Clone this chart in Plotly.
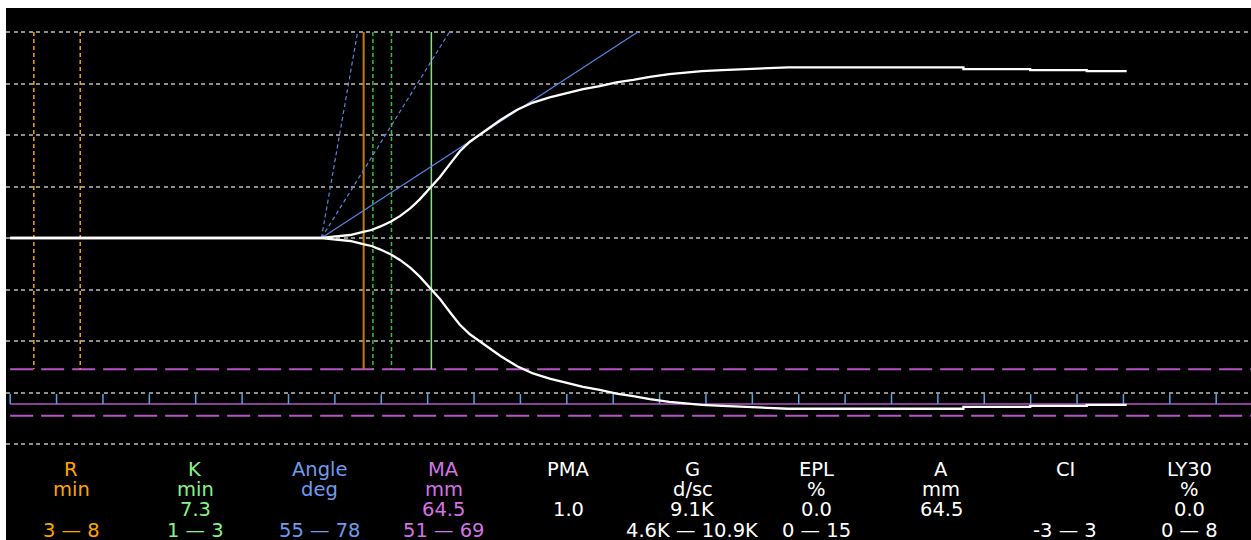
import plotly.graph_objects as go

# ---------------- data ----------------
# amplitude trace: time in minutes, half-amplitude in mm (drawn +/-)
T_MIN = [0.45, 34.0, 35.3, 37.1, 38.5, 39.4, 40.3, 41.5, 42.5, 43.6, 44.6, 45.9,
         46.8, 47.9, 48.9, 50.0, 51.3, 53.3, 55.1, 56.8, 58.6, 60.4, 62.2, 64.0,
         65.8, 67.6, 69.4, 71.5, 73.2, 75.0, 77.2, 80.1, 84.3, 103.2, 103.2,
         110.4, 110.4, 116.5, 116.5, 120.8]
AMP_MM = [0, 0, 0.25, 0.58, 1.2, 1.55, 2.2, 3.2, 4.3, 5.8, 7.5, 10.0,
          11.9, 14.5, 16.8, 18.7, 20.3, 22.9, 24.9, 26.3, 27.3, 28.1, 28.9, 29.5,
          30.2, 30.7, 31.3, 31.8, 32.1, 32.4, 32.6, 32.8, 33.15, 33.15, 32.8,
          32.8, 32.6, 32.6, 32.4, 32.4]

R_RANGE = [3, 8]          # min
R_TIME = 38.55            # min (R marker)
K_RANGE = [1, 3]          # min after R
K_VALUE = 7.3             # min
SPLIT_T = 34.0            # min, where the trace opens
ANGLE_END_T = 68.1        # angle tangent reaches top line here
ANGLE_LO_END_T = 47.8     # 55 deg limit
ANGLE_HI_END_T = 37.9     # 78 deg limit
MA = 64.5
MA_RANGE = [51, 69]
TICK_T = [0.45 + 5 * k for k in range(27)]
GRID_MM = [-40, -30, -20, -10, 0, 10, 20, 30, 40]
TOP_MM = 40

NAMES = ["R", "K", "Angle", "MA", "PMA", "G", "EPL", "A", "CI", "LY30"]
UNITS = ["min", "min", "deg", "mm", "", "d/sc", "%", "mm", "", "%"]
VALUES = ["", "7.3", "", "64.5", "1.0", "9.1K", "0.0", "64.5", "", "0.0"]
RANGES = ["3 — 8", "1 — 3", "55 — 78", "51 — 69", "", "4.6K — 10.9K",
          "0 — 15", "", "-3 — 3", "0 — 8"]

# ---------------- styling ----------------
ORANGE = "#F5A200"
ORANGE_DARK = "#C97A00"
GREEN = "#34C234"
GREEN_LIGHT = "#78E878"
BLUE = "#5585E0"
PURPLE = "#B455C4"
TICKBLUE = "#55A5E0"
GREY = "#8E8E8E"
TXT_COLORS = ["#FFA500", "#86F486", "#6D9CF0", "#D474E4"] + ["#FFFFFF"] * 6

X_MAX = 134.2
Y_RANGE = [-58.64, 44.66]

fig = go.Figure()

def vline(x, color, dash, width):
    fig.add_trace(go.Scatter(x=[x, x], y=[TOP_MM, -MA_RANGE[0] / 2], mode="lines",
                             line=dict(color=color, dash=dash, width=width),
                             hoverinfo="skip", showlegend=False))

# purple MA lines
for v in MA_RANGE:
    fig.add_trace(go.Scatter(x=[TICK_T[0], X_MAX], y=[-v / 2, -v / 2], mode="lines",
                             line=dict(color=PURPLE, dash="23px,8px", width=2),
                             hoverinfo="skip", showlegend=False))
fig.add_trace(go.Scatter(x=[TICK_T[0], X_MAX], y=[-MA / 2, -MA / 2], mode="lines",
                         line=dict(color=PURPLE, width=1.5),
                         hoverinfo="skip", showlegend=False))
# blue time ticks
tx, ty = [], []
for t in TICK_T:
    tx += [t, t, None]
    ty += [-MA / 2, -30.3, None]
fig.add_trace(go.Scatter(x=tx, y=ty, mode="lines",
                         line=dict(color=TICKBLUE, width=1.5),
                         hoverinfo="skip", showlegend=False))

# R range / R / K range / K markers
for v in R_RANGE:
    vline(v, ORANGE, "4px,3px", 1.5)
vline(R_TIME, ORANGE_DARK, "solid", 2)
for v in K_RANGE:
    vline(R_TIME + v, GREEN, "4px,3px", 1.5)
vline(R_TIME + K_VALUE, GREEN_LIGHT, "solid", 1.5)

# angle lines
for end_t, dash in [(ANGLE_HI_END_T, "4px,3px"), (ANGLE_LO_END_T, "4px,3px"),
                    (ANGLE_END_T, "solid")]:
    fig.add_trace(go.Scatter(x=[SPLIT_T, end_t], y=[0, TOP_MM], mode="lines",
                             line=dict(color=BLUE, dash=dash, width=1.2),
                             hoverinfo="skip", showlegend=False))

# amplitude trace (upper and lower)
fig.add_trace(go.Scatter(x=T_MIN, y=AMP_MM, mode="lines",
                         line=dict(color="white", width=2.3),
                         hoverinfo="skip", showlegend=False))
fig.add_trace(go.Scatter(x=T_MIN, y=[-a for a in AMP_MM], mode="lines",
                         line=dict(color="white", width=2.3),
                         hoverinfo="skip", showlegend=False))

# parameter table
PLOT_LEFT, PLOT_W, PLOT_H, H = 6, 1245, 532, 540
col_px = [71 + 124.3 * i for i in range(len(NAMES))]
row_py = [469.5, 489.5, 509.0, 530.5]
for i, px in enumerate(col_px):
    for rows, py in zip([NAMES, UNITS, VALUES, RANGES], row_py):
        if not rows[i]:
            continue
        fig.add_annotation(x=(px - PLOT_LEFT) / PLOT_W, y=(H - py) / PLOT_H,
                           xref="paper", yref="paper", text=rows[i],
                           showarrow=False, xanchor="center", yanchor="middle",
                           font=dict(family="DejaVu Sans", size=19.5,
                                     color=TXT_COLORS[i]))

fig.update_layout(
    width=1251, height=540,
    margin=dict(l=6, r=0, t=8, b=0),
    paper_bgcolor="white", plot_bgcolor="black",
    xaxis=dict(range=[0, X_MAX], showgrid=False, zeroline=False,
               showticklabels=False, ticks="", showline=False),
    yaxis=dict(range=Y_RANGE, tickvals=GRID_MM, showgrid=True,
               gridcolor=GREY, griddash="4px,3.5px", gridwidth=1.5,
               zeroline=False, showticklabels=False, ticks="", showline=False),
)

fig.write_html("out.html")
